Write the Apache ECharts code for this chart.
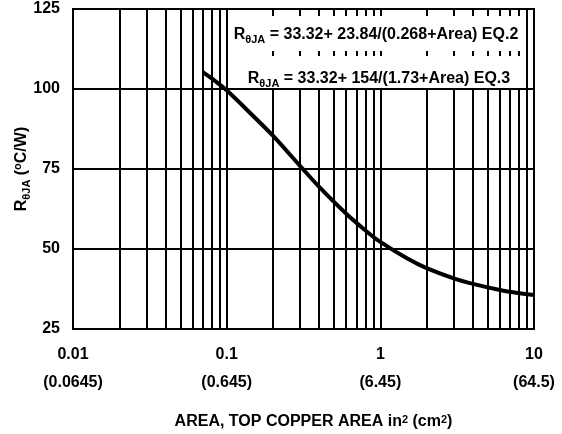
<!DOCTYPE html>
<html>
<head>
<meta charset="utf-8">
<script src="https://cdn.jsdelivr.net/npm/echarts@6/dist/echarts.min.js"></script>
<style>html,body{margin:0;padding:0;background:#fff;}#c{width:562px;height:434px;}</style>
</head>
<body>
<div id="c"></div>
<script>
// Data
var area = [0.07, 0.08, 0.1, 0.15, 0.2, 0.3, 0.4, 0.6, 0.8, 1, 1.5, 2, 3, 4, 6, 8, 10];
var rThetaJA = [105.3, 103.3, 99.6, 91.4, 85.4, 76.0, 69.4, 61.0, 55.8, 52.2, 47.0, 44.0, 40.8, 39.1, 37.2, 36.2, 35.6];
// Tick labels
var xTickValues = [0.01, 0.1, 1, 10];
var xTickLabels = ['0.01', '0.1', '1', '10'];
var xTickLabelsCm = ['(0.0645)', '(0.645)', '(6.45)', '(64.5)'];
var yTicks = [25, 50, 75, 100, 125];
// Minor vertical grid line values
var xMinorGrid = [0.02,0.03,0.04,0.05,0.06,0.07,0.08,0.09,0.2,0.3,0.4,0.5,0.6,0.7,0.8,0.9,2,3,4,5,6,7,8,9];
var eq2Text = ' = 33.32+ 23.84/(0.268+Area) EQ.2';
var eq3Text = ' = 33.32+ 154/(1.73+Area) EQ.3';

var FONT = '"Liberation Sans", Arial, Helvetica, sans-serif';
var FS = 16;
var chart = echarts.init(document.getElementById('c'), null, {renderer: 'canvas'});

function richEq(t) {
  return {
    text: '{r|R}{s|θJA}{n|' + t + '}',
    rich: {
      r: {fontSize: FS, fontWeight: 'bold', fontFamily: FONT, fill: '#000', lineHeight: 20, verticalAlign: 'middle'},
      s: {fontSize: 11, fontWeight: 'bold', fontFamily: FONT, fill: '#000', lineHeight: 10, verticalAlign: 'bottom'},
      n: {fontSize: FS, fontWeight: 'bold', fontFamily: FONT, fill: '#000', lineHeight: 20, verticalAlign: 'middle'}
    },
    align: 'center',
    verticalAlign: 'middle'
  };
}

var eq2 = richEq(eq2Text); eq2.x = 376; eq2.y = 35;
var eq3 = richEq(eq3Text); eq3.x = 379; eq3.y = 79;

var option = {
  animation: false,
  backgroundColor: '#fff',
  grid: {left: 73, right: 28, top: 9, bottom: 105, outerBoundsMode: 'none', containLabel: false, show: true, borderColor: '#000', borderWidth: 2, backgroundColor: 'transparent'},
  xAxis: {
    type: 'log', logBase: 10, min: xTickValues[0], max: xTickValues[xTickValues.length - 1],
    axisLine: {show: true, lineStyle: {color: '#000', width: 2}},
    axisTick: {show: false},
    splitLine: {show: true, lineStyle: {color: '#000', width: 2}},
    axisLabel: {
      margin: 12, color: '#000', fontWeight: 'bold', fontSize: FS, fontFamily: FONT, lineHeight: 28,
      formatter: function (v) {
        var i = Math.round(Math.log10(v)) + 2;
        return xTickLabels[i] + '\n' + xTickLabelsCm[i];
      }
    },
    name: 'AREA, TOP COPPER AREA in{p|2} (cm{p|2})',
    nameLocation: 'middle', nameGap: 85, nameMoveOverlap: false,
    nameTextStyle: {
      color: '#000', fontWeight: 'bold', fontSize: FS, fontFamily: FONT, padding: [0, 0, 0, 20],
      rich: {p: {fontSize: 11, fontWeight: 'bold', fontFamily: FONT, color: '#000', verticalAlign: 'top', lineHeight: 10}}
    }
  },
  yAxis: {
    type: 'value', min: yTicks[0], max: yTicks[yTicks.length - 1], interval: 25,
    axisLine: {show: true, lineStyle: {color: '#000', width: 2}},
    axisTick: {show: false},
    splitLine: {show: true, lineStyle: {color: '#000', width: 2}},
    axisLabel: {margin: 13, color: '#000', fontWeight: 'bold', fontSize: FS, fontFamily: FONT, padding: [7, 0, 0, 0]},
    name: '{r|R}{s|θJA}{n| (}{o|o}{n|C/W)}',
    nameLocation: 'middle', nameGap: 41, nameRotate: 90, nameMoveOverlap: false,
    nameTextStyle: {
      rich: {
        r: {fontSize: FS, fontWeight: 'bold', fontFamily: FONT, color: '#000', lineHeight: 20, verticalAlign: 'middle'},
        s: {fontSize: 11, fontWeight: 'bold', fontFamily: FONT, color: '#000', lineHeight: 10, verticalAlign: 'bottom'},
        n: {fontSize: FS, fontWeight: 'bold', fontFamily: FONT, color: '#000', lineHeight: 20, verticalAlign: 'middle'},
        o: {fontSize: 11, fontWeight: 'bold', fontFamily: FONT, color: '#000', lineHeight: 10, verticalAlign: 'top'}
      }
    }
  },
  graphic: [
    {type: 'rect', z: 5, shape: {x: 229, y: 16, width: 297, height: 35}, style: {fill: '#fff'}},
    {type: 'rect', z: 5, shape: {x: 229, y: 56, width: 297, height: 32}, style: {fill: '#fff'}},
    {type: 'text', z: 6, style: eq2},
    {type: 'text', z: 6, style: eq3}
  ],
  series: [
    {
      type: 'line', data: [], z: 1, silent: true,
      markLine: {
        z: 1, silent: true, symbol: ['none', 'none'], label: {show: false},
        lineStyle: {color: '#000', width: 2, type: 'solid'},
        data: xMinorGrid.map(function (v) { return {xAxis: v}; })
      }
    },
    {
      type: 'line', z: 10, smooth: 0.3, symbol: 'none',
      lineStyle: {color: '#000', width: 4},
      data: area.map(function (a, i) { return [a, rThetaJA[i]]; })
    }
  ]
};
chart.setOption(option);
</script>
</body>
</html>
